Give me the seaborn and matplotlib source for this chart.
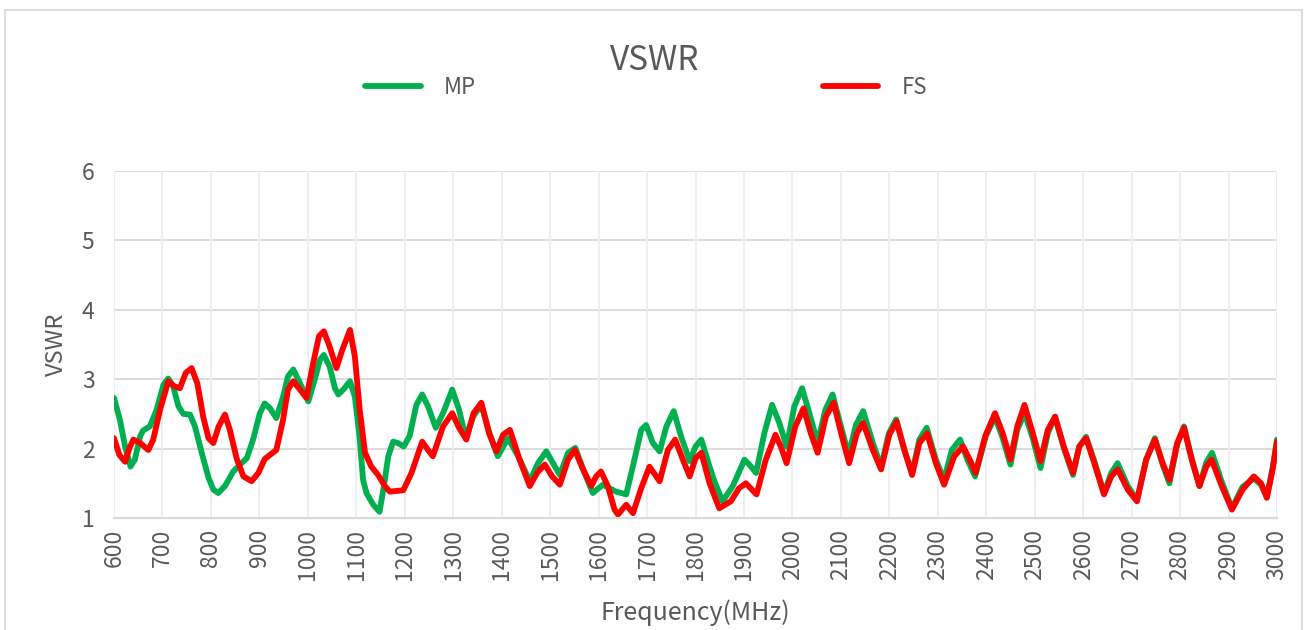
import pandas as pd
import seaborn as sns
import matplotlib.pyplot as plt
from matplotlib.patches import Rectangle

# MP curve (green)
mp_freq = [600, 612, 623, 634, 643, 654, 660, 674, 688, 702, 712, 722, 733, 743,
           757, 767, 781, 795, 805, 815, 829, 846, 863, 874, 887, 901, 911, 922,
           935, 949, 959, 970, 984, 1001, 1014, 1025, 1033, 1045, 1056, 1063, 1073,
           1087, 1097, 1106, 1114, 1121, 1135, 1148, 1157, 1166, 1176, 1186, 1198,
           1210, 1224, 1236, 1248, 1264, 1279, 1298, 1312, 1326, 1341, 1358, 1375,
           1392, 1413, 1434, 1458, 1475, 1492, 1506, 1520, 1537, 1552, 1571, 1588,
           1609, 1636, 1657, 1674, 1688, 1698, 1712, 1726, 1740, 1755, 1770, 1788,
           1800, 1812, 1829, 1839, 1856, 1877, 1901, 1911, 1925, 1942, 1958, 1973,
           1988, 2004, 2020, 2035, 2052, 2068, 2083, 2100, 2116, 2131, 2146, 2166,
           2183, 2199, 2214, 2231, 2247, 2262, 2277, 2296, 2313, 2329, 2346, 2361,
           2377, 2399, 2418, 2434, 2450, 2464, 2479, 2496, 2512, 2527, 2542, 2560,
           2579, 2592, 2606, 2623, 2643, 2658, 2671, 2692, 2711, 2730, 2748, 2764,
           2778, 2794, 2808, 2824, 2840, 2854, 2866, 2886, 2907, 2929, 2952, 2967,
           2979, 2991, 3000]
mp_vswr = [2.73, 2.42, 2.03, 1.74, 1.84, 2.18, 2.26, 2.32, 2.56, 2.92, 3.01, 2.90, 2.61, 2.50,
           2.49, 2.32, 1.94, 1.58, 1.41, 1.36, 1.46, 1.67, 1.79, 1.86, 2.13, 2.51, 2.65, 2.58,
           2.44, 2.75, 3.04, 3.14, 2.94, 2.68, 2.99, 3.28, 3.35, 3.18, 2.87, 2.78, 2.85,
           2.97, 2.75, 2.22, 1.55, 1.36, 1.19, 1.09, 1.46, 1.89, 2.10, 2.08, 2.03,
           2.18, 2.63, 2.78, 2.61, 2.30, 2.51, 2.85, 2.56, 2.15, 2.46, 2.63, 2.22,
           1.89, 2.15, 1.89, 1.53, 1.79, 1.96, 1.79, 1.62, 1.94, 2.01, 1.65, 1.36,
           1.48, 1.38, 1.34, 1.84, 2.27, 2.34, 2.08, 1.96, 2.32, 2.54, 2.18, 1.82,
           2.03, 2.13, 1.74, 1.53, 1.24, 1.46, 1.84, 1.77, 1.65, 2.22, 2.63, 2.37,
           2.03, 2.61, 2.87, 2.51, 2.08, 2.56, 2.78, 2.32, 1.91, 2.34, 2.54, 2.08,
           1.74, 2.22, 2.42, 1.98, 1.65, 2.13, 2.30, 1.84, 1.55, 1.98, 2.13, 1.84,
           1.60, 2.18, 2.46, 2.15, 1.77, 2.27, 2.51, 2.15, 1.72, 2.22, 2.46, 2.01,
           1.62, 2.03, 2.17, 1.82, 1.36, 1.65, 1.79, 1.46, 1.26, 1.84, 2.15, 1.77,
           1.50, 2.06, 2.32, 1.86, 1.46, 1.80, 1.94, 1.52, 1.14, 1.45, 1.57, 1.48,
           1.31, 1.72, 2.13]

# FS curve (red)
fs_freq = [600, 611, 623, 632, 640, 654, 671, 681, 695, 712, 724, 736, 748, 760,
           772, 784, 795, 805, 816, 829, 839, 853, 867, 884, 898, 911, 922, 935,
           949, 959, 970, 984, 997, 1011, 1023, 1033, 1045, 1059, 1071, 1087, 1097,
           1107, 1118, 1131, 1145, 1159, 1169, 1197, 1214, 1236, 1248, 1258, 1279,
           1298, 1312, 1327, 1342, 1358, 1374, 1389, 1403, 1417, 1437, 1458, 1473,
           1489, 1504, 1520, 1537, 1551, 1568, 1585, 1595, 1605, 1619, 1633, 1640,
           1657, 1671, 1688, 1705, 1726, 1743, 1758, 1774, 1788, 1800, 1812, 1829,
           1849, 1873, 1890, 1904, 1926, 1945, 1965, 1976, 1988, 2006, 2023, 2038,
           2052, 2069, 2085, 2102, 2117, 2133, 2146, 2166, 2183, 2200, 2215, 2231,
           2247, 2262, 2278, 2296, 2313, 2334, 2352, 2366, 2378, 2398, 2418, 2434,
           2450, 2464, 2479, 2496, 2512, 2527, 2542, 2560, 2579, 2592, 2606, 2623,
           2643, 2658, 2671, 2692, 2711, 2730, 2748, 2764, 2778, 2794, 2808, 2824,
           2840, 2854, 2865, 2886, 2907, 2929, 2952, 2967, 2979, 2991, 3000]
fs_vswr = [2.15, 1.91, 1.81, 2.01, 2.13, 2.08, 1.98, 2.13, 2.56, 2.97, 2.90, 2.87, 3.09, 3.16,
           2.94, 2.46, 2.15, 2.08, 2.32, 2.49, 2.27, 1.86, 1.60, 1.53, 1.65, 1.85, 1.91, 1.98,
           2.42, 2.85, 2.97, 2.85, 2.73, 3.23, 3.62, 3.69, 3.47, 3.16, 3.42, 3.71, 3.33,
           2.56, 1.94, 1.74, 1.62, 1.46, 1.38, 1.40, 1.65, 2.10, 1.98, 1.89, 2.32,
           2.51, 2.30, 2.13, 2.51, 2.66, 2.22, 1.96, 2.20, 2.27, 1.84, 1.46, 1.65,
           1.77, 1.60, 1.48, 1.84, 1.98, 1.70, 1.46, 1.60, 1.67, 1.46, 1.12, 1.05,
           1.19, 1.07, 1.43, 1.74, 1.53, 1.98, 2.13, 1.84, 1.60, 1.86, 1.94, 1.50,
           1.14, 1.24, 1.43, 1.50, 1.34, 1.84, 2.20, 2.03, 1.79, 2.32, 2.58, 2.22,
           1.94, 2.46, 2.66, 2.18, 1.79, 2.22, 2.37, 1.98, 1.70, 2.20, 2.39, 1.98,
           1.62, 2.08, 2.22, 1.79, 1.48, 1.89, 2.03, 1.84, 1.65, 2.18, 2.51, 2.22,
           1.84, 2.32, 2.63, 2.22, 1.82, 2.27, 2.46, 2.03, 1.65, 2.03, 2.15, 1.79,
           1.34, 1.60, 1.70, 1.41, 1.24, 1.84, 2.13, 1.79, 1.55, 2.08, 2.30, 1.84,
           1.46, 1.74, 1.84, 1.46, 1.12, 1.41, 1.60, 1.50, 1.29, 1.70, 2.10]

x_ticks = list(range(600, 3001, 100))
y_ticks = [1, 2, 3, 4, 5, 6]

df = pd.concat([
    pd.DataFrame({"freq": mp_freq, "vswr": mp_vswr, "series": "MP"}),
    pd.DataFrame({"freq": fs_freq, "vswr": fs_vswr, "series": "FS"}),
])

sns.set_style("white")
plt.rcParams["font.family"] = ["Noto Sans CJK SC", "DejaVu Sans"]
grey = "#595959"

fig = plt.figure(figsize=(13.07, 6.30), dpi=100)
ax = fig.add_axes([114 / 1307, 112 / 630, 1163 / 1307, 347 / 630])

sns.lineplot(data=df, x="freq", y="vswr", hue="series", hue_order=["MP", "FS"],
             palette={"MP": "#00B050", "FS": "#FF0000"}, linewidth=4.2,
             errorbar=None, sort=False, ax=ax,
             solid_joinstyle="round", solid_capstyle="round")

ax.set_xlim(600, 3000)
ax.set_ylim(1, 6)
ax.set_xticks(x_ticks)
ax.set_yticks(y_ticks)
ax.set_xticklabels([str(t) for t in x_ticks], rotation=90)
ax.tick_params(axis="both", length=0, labelsize=16.5, colors=grey)
ax.tick_params(axis="x", pad=8)
ax.tick_params(axis="y", pad=14)

# gridlines like Excel: horizontal darker, vertical faint
for t in y_ticks[1:]:
    ax.axhline(t, color="#D9D9D9", lw=1.3, zorder=0)
for t in x_ticks:
    ax.axvline(t, color="#EDEDED", lw=1.3, zorder=0)

for s in ["top", "right", "left"]:
    ax.spines[s].set_visible(False)
ax.spines["bottom"].set_color("#D9D9D9")
ax.spines["bottom"].set_linewidth(1.6)

ax.set_xlabel("Frequency(MHz)", fontsize=18, color=grey, labelpad=14)
ax.set_ylabel("VSWR", fontsize=17, color=grey, labelpad=10)

handles, labels = ax.get_legend_handles_labels()
ax.get_legend().remove()
fig.legend(handles, labels, loc="center", bbox_to_anchor=(646 / 1307, 1 - 87 / 630),
           ncol=2, frameon=False, fontsize=16, labelcolor=grey,
           handlelength=2.5, handletextpad=1.05, columnspacing=15.6)

fig.text(655 / 1307, 1 - 60 / 630, "VSWR", ha="center", va="center",
         fontsize=24, color=grey)

# chart frame
fig.patches.append(Rectangle((5 / 1307, -0.02), 1297 / 1307, 1 - 10 / 630 + 0.02,
                             transform=fig.transFigure, fill=False,
                             edgecolor="#D9D9D9", lw=1.3))

fig.savefig("out.png", dpi=100)
